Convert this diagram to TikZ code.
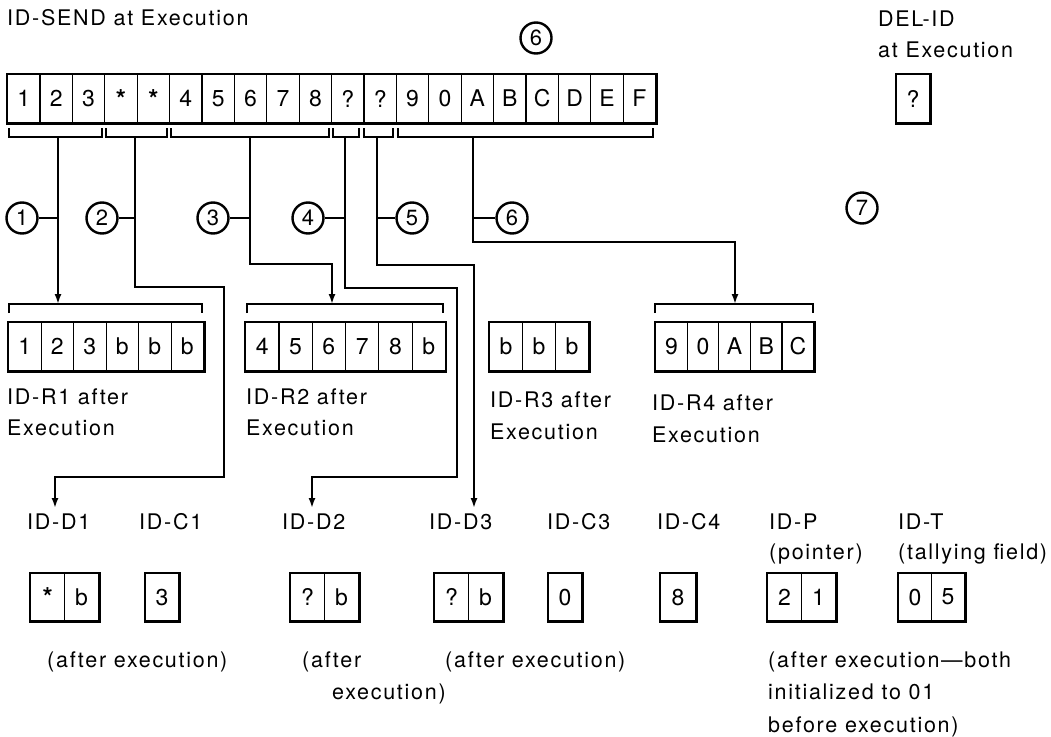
\documentclass[tikz,border=0pt]{standalone}
\usepackage{fontspec}
\setmainfont{TeX Gyre Heros}[LetterSpace=8]
\usetikzlibrary{arrows.meta}
\newcommand\starmark{\raisebox{-0.5ex}{\fontsize{26}{26}\selectfont\bfseries *}}
\begin{document}
\begin{tikzpicture}[x=1pt,y=-1pt,
  txt/.style={inner sep=0,anchor=base west,font=\fontsize{21.5}{24}\selectfont},
  cell/.style={draw,line width=1.2pt,inner sep=0,anchor=north west,
    minimum width=32.4pt,minimum height=48pt,font=\fontsize{23}{26}\selectfont},
  frame/.style={line width=2.8pt},
  bracket/.style={line width=1.8pt},
  wire/.style={line width=1.8pt},
  arr/.style={wire,-{Latex[length=10pt,width=7pt]}},
  num/.style={draw,circle,line width=2.4pt,minimum size=31pt,inner sep=0,
    font=\fontsize{22}{24}\selectfont}]
\useasboundingbox (0,0) rectangle (1051,736);

% ---------- source field ID-SEND ----------
\node[txt] (sendlab) at (7,25) {ID-SEND at Execution};
\node[num] (top6) at (536,38) {6};
\foreach \t [count=\i] in {1,2,3,\starmark,\starmark,4,5,6,7,8,?,?,9,0,A,B,C,D,E,F}
  \node[cell] (s\i) at ({7+(\i-1)*32.4},74) {\t};
\draw[frame] (s1.north west) rectangle (s20.south east);

% delimiter field
\node[txt] (dellab1) at (878,27) {DEL-ID};
\node[txt] (dellab2) at (878,57) {at Execution};
\node[cell,minimum width=33pt] (del) at (896,74) {?};
\draw[frame] (del.north west) rectangle (del.south east);

% brackets under the source field
\draw[bracket] (9,128) |- (102,137) -- (102,128);
\draw[bracket] (106,128) |- (167,137) -- (167,128);
\draw[bracket] (171,128) |- (329,137) -- (329,128);
\draw[bracket] (333,128) |- (359,137) -- (359,128);
\draw[bracket] (364,128) |- (393,137) -- (393,128);
\draw[bracket] (398,128) |- (653,137) -- (653,128);
\coordinate (t1) at (58,137);
\coordinate (t2) at (135,137);
\coordinate (t3) at (250,137);
\coordinate (t4) at (345,137);
\coordinate (t5) at (377,137);
\coordinate (t6) at (473,137);

% step numbers
\node[num] (n1) at (22,218) {1};
\node[num] (n2) at (102,218) {2};
\node[num] (n3) at (213,218) {3};
\node[num] (n4) at (308,218) {4};
\node[num] (n5) at (412,218) {5};
\node[num] (n6) at (512,218) {6};
\node[num] (n7) at (862,208) {7};

% receiving fields
\coordinate (a1) at (58,304);
\coordinate (a2) at (332,304);
\coordinate (a4) at (735,304);
\coordinate (d1in) at (55,508);
\coordinate (d2in) at (312,508);
\coordinate (d3in) at (474,508);

% connectors
\draw[wire] (n1.east) -- (n1.east -| t1);
\draw[arr] (t1) -- (a1);
\draw[wire] (n2.east) -- (n2.east -| t2);
\draw[arr] (t2) |- (224,287) |- (55,477) -- (d1in);
\draw[wire] (n3.east) -- (n3.east -| t3);
\draw[arr] (t3) |- (332,264) -- (a2);
\draw[wire] (n4.east) -- (n4.east -| t4);
\draw[arr] (t4) |- (457,288) |- (312,477) -- (d2in);
\draw[wire] (n5.west) -- (n5.west -| t5);
\draw[arr] (t5) |- (474,265) -- (d3in);
\draw[wire] (n6.west) -- (n6.west -| t6);
\draw[arr] (t6) |- (735,242) -- (a4);

% brackets over the receiving fields
\draw[bracket] (9,313) |- (202,304) -- (202,313);
\draw[bracket] (247,313) |- (443,304) -- (443,313);
\draw[bracket] (655,313) |- (813,304) -- (813,313);

% ID-R1 .. ID-R4
\foreach \t [count=\i] in {1,2,3,b,b,b}
  \node[cell,minimum width=32.5pt] (ra\i) at ({8+(\i-1)*32.5},322) {\t};
\draw[frame] (ra1.north west) rectangle (ra6.south east);
\foreach \t [count=\i] in {4,5,6,7,8,b}
  \node[cell,minimum width=33.3pt] (rb\i) at ({245+(\i-1)*33.3},322) {\t};
\draw[frame] (rb1.north west) rectangle (rb6.south east);
\foreach \t [count=\i] in {b,b,b}
  \node[cell,minimum width=33pt] (rc\i) at ({489+(\i-1)*33},322) {\t};
\draw[frame] (rc1.north west) rectangle (rc3.south east);
\foreach \t [count=\i] in {9,0,A,B,C}
  \node[cell,minimum width=31.6pt] (rd\i) at ({655+(\i-1)*31.6},322) {\t};
\draw[frame] (rd1.north west) rectangle (rd5.south east);

\node[txt] (ra-l1) at (7,404) {ID-R1 after};
\node[txt] (ra-l2) at (7,435) {Execution};
\node[txt] (rb-l1) at (246,404) {ID-R2 after};
\node[txt] (rb-l2) at (246,435) {Execution};
\node[txt] (rc-l1) at (490,407) {ID-R3 after};
\node[txt] (rc-l2) at (490,439) {Execution};
\node[txt] (rd-l1) at (652,410) {ID-R4 after};
\node[txt] (rd-l2) at (652,442) {Execution};

% delimiter, count, pointer and tally fields
\node[txt] (d1lab) at (27,529) {ID-D1};
\node[txt] (c1lab) at (139,529) {ID-C1};
\node[txt] (d2lab) at (282,529) {ID-D2};
\node[txt] (d3lab) at (429,529) {ID-D3};
\node[txt] (c3lab) at (547,529) {ID-C3};
\node[txt] (c4lab) at (657,529) {ID-C4};
\node[txt] (plab) at (769,529) {ID-P};
\node[txt] (plab2) at (769,559) {(pointer)};
\node[txt] (tlab) at (898,529) {ID-T};
\node[txt] (tlab2) at (898,559) {(tallying field)};

\tikzset{small/.style={cell,minimum width=34pt,minimum height=47pt}}
\node[small] (d1a) at (30,573) {\starmark};
\node[small] (d1b) at (64,573) {b};
\draw[frame] (d1a.north west) rectangle (d1b.south east);
\node[small,minimum width=33pt] (c1) at (145,573) {3};
\draw[frame] (c1.north west) rectangle (c1.south east);
\node[small] (d2a) at (290,573) {?};
\node[small] (d2b) at (324,573) {b};
\draw[frame] (d2a.north west) rectangle (d2b.south east);
\node[small] (d3a) at (434,573) {?};
\node[small] (d3b) at (468,573) {b};
\draw[frame] (d3a.north west) rectangle (d3b.south east);
\node[small,minimum width=33pt] (c3) at (548,573) {0};
\draw[frame] (c3.north west) rectangle (c3.south east);
\node[small,minimum width=35pt] (c4) at (660,573) {8};
\draw[frame] (c4.north west) rectangle (c4.south east);
\node[small] (pa) at (767,573) {2};
\node[small] (pb) at (801,573) {1};
\draw[frame] (pa.north west) rectangle (pb.south east);
\node[small,minimum width=33pt] (ta) at (898,573) {0};
\node[small,minimum width=33pt] (tb) at (931,573) {5};
\draw[frame] (ta.north west) rectangle (tb.south east);

% notes
\node[txt] (note1) at (47,667) {(after execution)};
\node[txt] (note2a) at (302,667) {(after};
\node[txt] (note2b) at (332,699) {execution)};
\node[txt] (note3) at (445,667) {(after execution)};
\node[txt] (note4a) at (768,667) {(after execution---both};
\node[txt] (note4b) at (768,699) {initialized to 01};
\node[txt] (note4c) at (768,732) {before execution)};
\end{tikzpicture}
\end{document}
